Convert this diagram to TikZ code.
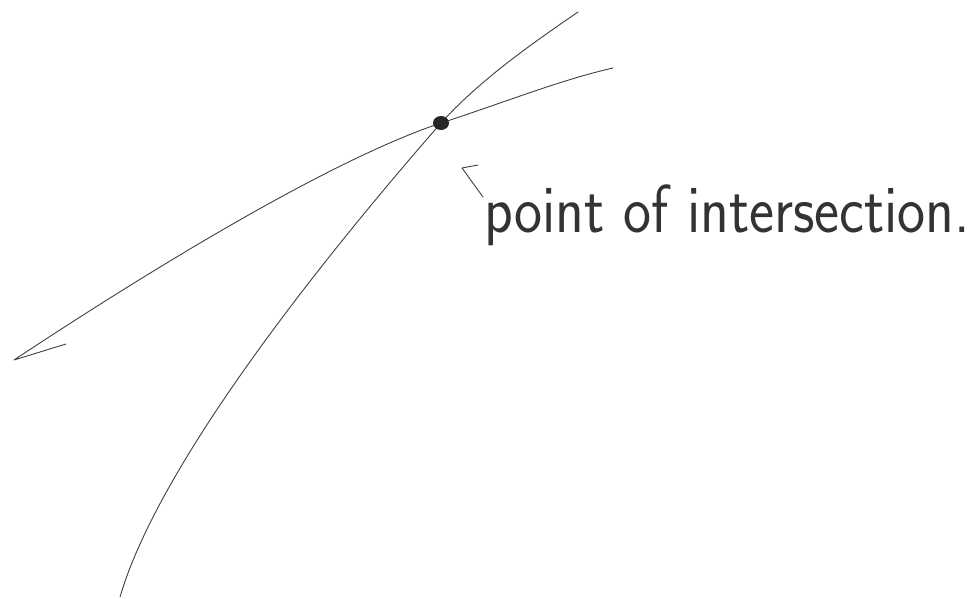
\documentclass[tikz,border=0pt]{standalone}
\usepackage{graphicx}
\tikzset{
  sketch/.style={line width=0.9pt, draw=black!75, line cap=round, line join=round},
  lbl/.style={anchor=base west, inner sep=0pt, text=black!80}
}
\begin{document}
\begin{tikzpicture}[x=1pt,y=-1pt]
\useasboundingbox (0,0) rectangle (974,599);
% intersection point
\coordinate (P) at (441,123);
\coordinate (tipA) at (14,360);
\coordinate (hookA) at (66,344);
\coordinate (endA) at (613,68);
\coordinate (startB) at (120,597);
\coordinate (endB) at (578,12);
% curve 1
\draw[sketch] (hookA) -- (tipA) .. controls (150,270) and (330,160) .. (P)
  .. controls (500,104) and (560,80) .. (endA);
% curve 2
\draw[sketch] (startB) .. controls (160,460) and (330,250) .. (P)
  .. controls (480,80) and (530,45) .. (endB);
\fill[black!85] (P) ellipse [x radius=8, y radius=7];
% arrow to label
\coordinate (arTip) at (462,168);
\coordinate (arTail) at (483,197);
\coordinate (arHead) at (478,165);
\draw[sketch] (arTail) -- (arTip) -- (arHead);
\node[lbl] (label) at (484,232) {\resizebox{486pt}{\height}{\fontsize{68}{68}\selectfont\sffamily point of intersection.}};
\end{tikzpicture}
\end{document}
